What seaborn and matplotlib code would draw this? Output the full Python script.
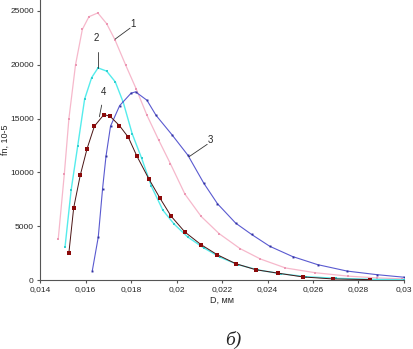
import numpy as np
import pandas as pd
import seaborn as sns
import matplotlib
matplotlib.use("Agg")
import matplotlib.pyplot as plt
from matplotlib.ticker import FuncFormatter

# curve 1 (pink)
d1 = [0.0148, 0.01507, 0.01527, 0.01556, 0.01586, 0.01615, 0.01654, 0.01693, 0.01729,
      0.01777, 0.01823, 0.0187, 0.01922, 0.01973, 0.02037, 0.02108, 0.02187, 0.02279,
      0.02369, 0.02479, 0.02609, 0.02755, 0.0288, 0.0299]
f1 = [3800, 9900, 15000, 19980, 23270, 24450, 24800, 23800, 22330,
      19940, 17740, 15310, 12990, 10820, 7990, 5930, 4330, 2940,
      1970, 1140, 700, 380, 220, 130]

# curve 2 (cyan)
d2 = [0.0151, 0.01537, 0.01566, 0.01596, 0.01627, 0.01655, 0.01693, 0.01731, 0.01766,
      0.01805, 0.01847, 0.0189, 0.0194, 0.0199, 0.0205, 0.0212, 0.0219, 0.0227,
      0.0236, 0.0246, 0.0257, 0.027, 0.0285, 0.0300]
f2 = [3100, 8400, 12500, 16800, 18800, 19700, 19400, 18400, 16500,
      13600, 11300, 8700, 6500, 5200, 4000, 3000, 2150, 1450,
      950, 600, 330, 180, 90, 40]

# curve 3 (blue)
d3 = [0.0163, 0.01656, 0.01675, 0.0169, 0.0171, 0.0175, 0.0180, 0.0182, 0.0187,
      0.0191, 0.0198, 0.0205, 0.0212, 0.0218, 0.0226, 0.0233, 0.0241, 0.0251,
      0.0262, 0.0275, 0.0288, 0.0300]
f3 = [900, 4000, 8500, 11500, 14300, 16200, 17350, 17480, 16700,
      15300, 13500, 11600, 9000, 7100, 5300, 4250, 3150, 2200,
      1450, 850, 520, 280]

# curve 4 (dark red)
d4 = [0.01527, 0.01548, 0.01577, 0.01607, 0.01639, 0.01681, 0.01708, 0.01749, 0.01788,
      0.01826, 0.01879, 0.01928, 0.01976, 0.02037, 0.02108, 0.02179, 0.0226, 0.02348,
      0.02448, 0.02557, 0.02688, 0.02849]
f4 = [2560, 6720, 9750, 12220, 14290, 15370, 15210, 14350, 13270,
      11510, 9380, 7590, 5950, 4470, 3300, 2370, 1540, 980,
      650, 305, 120, 60]

sns.set_style("white")
plt.rcParams['font.family'] = ['Liberation Sans', 'DejaVu Sans']

fig = plt.figure(figsize=(4.13, 3.49), dpi=100)
ax = fig.add_axes([0.0969, 0.197, 0.8813, 0.803])

sns.lineplot(x=d1, y=f1, ax=ax, sort=False, color='#f6b8cb', lw=0.9,
             marker='s', markersize=1.8, markeredgewidth=0, markerfacecolor='#ec98b4')
sns.lineplot(x=d2, y=f2, ax=ax, sort=False, color='#55ecec', lw=1.0,
             marker='s', markersize=1.8, markeredgewidth=0, markerfacecolor='#30d0d0')
sns.lineplot(x=d3, y=f3, ax=ax, sort=False, color='#5a5ad0', lw=0.8,
             marker='s', markersize=1.4, markeredgewidth=0, markerfacecolor='#3030a0')
sns.lineplot(x=d4, y=f4, ax=ax, sort=False, color='#4a1414', lw=0.7,
             marker='s', markersize=2.6, markeredgewidth=0, markerfacecolor='#8b0a0a')

ax.set_xlim(0.014, 0.030)
ax.set_ylim(0, 26000)
ax.set_xticks(np.arange(0.014, 0.0301, 0.002))
ax.set_yticks([0, 5000, 10000, 15000, 20000, 25000])
ax.xaxis.set_major_formatter(FuncFormatter(lambda v, p: ('%g' % round(v, 3)).replace('.', ',')))
ax.tick_params(axis='both', labelsize=6, length=2.5, width=0.8, color='#555555', pad=2,
               direction='out', bottom=True, left=True)
for s in ['top', 'right']:
    ax.spines[s].set_visible(False)
for s in ['left', 'bottom']:
    ax.spines[s].set_color('#555555')
    ax.spines[s].set_linewidth(0.8)

ax.set_xlabel('D, мм', fontsize=6.5, labelpad=2)
ax.set_ylabel('fn, 10-5', fontsize=6.5)
ax.yaxis.set_label_coords(-0.082, 0.5)

# curve labels with leader lines
labels = [('1', (0.01809, 23760), (0.0173, 22370), (0.01796, 23390)),
          ('2', (0.01649, 22430), (0.01654, 19650), (0.01654, 21190)),
          ('4', (0.01678, 17430), (0.01661, 15170), (0.01671, 16250)),
          ('3', (0.0215, 13010), (0.02055, 11460), (0.02135, 12610))]
for txt, tpos, a, b in labels:
    ax.plot([a[0], b[0]], [a[1], b[1]], color='#333333', lw=0.6)
    ax.text(tpos[0], tpos[1], txt, fontsize=7, ha='center', va='center')

fig.text(233 / 413, 1 - 340 / 349, 'б)', fontsize=14, style='italic',
         family='Liberation Serif', ha='center', va='center')

fig.savefig('out.png', dpi=100)
